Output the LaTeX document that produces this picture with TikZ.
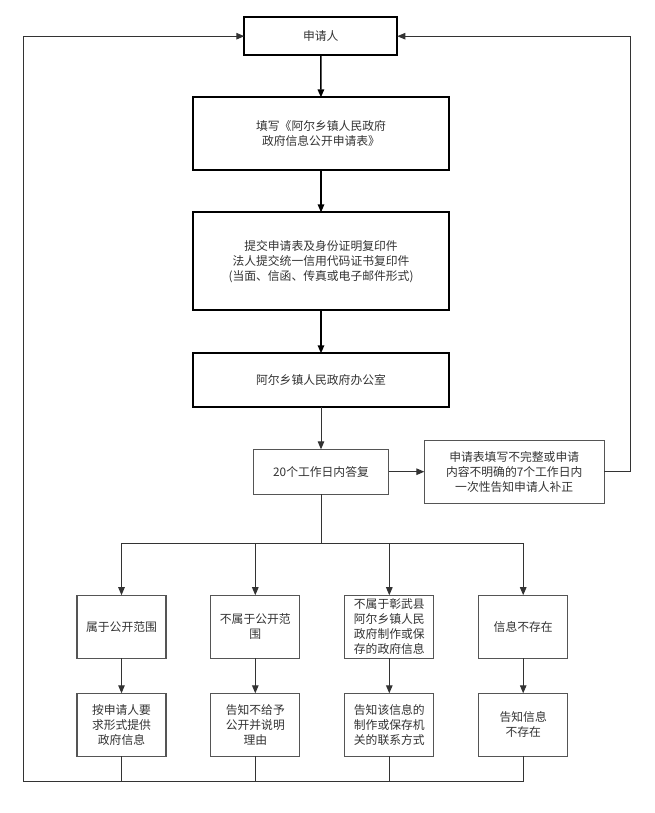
\documentclass[tikz,border=0pt]{standalone}
\usepackage{fontspec}
\setmainfont{Noto Sans CJK SC}
\usetikzlibrary{arrows.meta,calc}
\definecolor{txt}{HTML}{333333}
\definecolor{ln}{HTML}{333333}
\definecolor{bd}{HTML}{555555}
\begin{document}
\begin{tikzpicture}[x=1pt,y=-1pt,
  font=\fontsize{11.8}{15}\selectfont,
  topbox/.style={draw=black,line width=1.8pt,text=txt,align=center,inner sep=0pt,outer sep=0pt},
  lowbox/.style={draw=bd,line width=1.1pt,text=txt,align=center,inner sep=0pt,outer sep=0pt},
  colbox/.style={lowbox,minimum width=89pt,minimum height=63pt},
  toparrow/.style={draw=black,line width=1.4pt,-{Triangle[length=8pt,width=6.5pt]}},
  lowarrow/.style={draw=ln,line width=1pt,-{Triangle[length=8pt,width=6.5pt]}},
  lowline/.style={draw=ln,line width=1pt}]
\useasboundingbox (0,0) rectangle (655,813);
\fill[white] (0,0) rectangle (655,813);

\node[topbox,minimum width=153pt,minimum height=37.7pt] (app) at (320.8,36.2) {申请人};
\node[topbox,minimum width=256.6pt,minimum height=72.7pt] (fill) at (321,133.7) {填写《阿尔乡镇人民政府\\政府信息公开申请表》};
\node[topbox,minimum width=256.6pt,minimum height=97.7pt] (submit) at (321,261.2) {提交申请表及身份证明复印件\\法人提交统一信用代码证书复印件\\(当面、信函、传真或电子邮件形式)};
\node[topbox,minimum width=256.6pt,minimum height=53.4pt] (office) at (321,380) {阿尔乡镇人民政府办公室};
\node[lowbox,minimum width=135.4pt,minimum height=44.7pt] (reply) at (321,471.7) {20个工作日内答复};
\node[lowbox,minimum width=179.7pt,minimum height=63.3pt] (notify) at (514.2,471.7) {申请表填写不完整或申请\\内容不明确的7个工作日内\\一次性告知申请人补正};

\node[colbox] (ra) at (121.5,626.7) {属于公开范围};
\node[colbox] (rb) at (255.3,626.7) {不属于公开范\\围};
\node[colbox] (rc) at (389.3,626.7) {不属于彰武县\\阿尔乡镇人民\\政府制作或保\\存的政府信息};
\node[colbox] (rd) at (523.2,626.7) {信息不存在};

\node[colbox] (sa) at (121.5,724.8) {按申请人要\\求形式提供\\政府信息};
\node[colbox] (sb) at (255.3,724.8) {告知不给予\\公开并说明\\理由};
\node[colbox] (sc) at (389.3,724.8) {告知该信息的\\制作或保存机\\关的联系方式};
\node[colbox] (sd) at (523.2,724.8) {告知信息\\不存在};

\coordinate (branch) at (321,543.3);
\coordinate (bl) at (23,781.7);
\coordinate (tl) at (23,36.2);
\coordinate (tr) at (630.7,36.2);

% main vertical flow
\draw[toparrow] (app) -- (fill);
\draw[toparrow] (fill) -- (submit);
\draw[toparrow] (submit) -- (office);
\draw[lowarrow] (office) -- (reply);
\draw[lowarrow] (reply) -- (notify);

% branches
\foreach \n in {ra,rb,rc,rd}{
  \draw[lowarrow] (reply.south) -- (branch) -| (\n.north);
}
\foreach \a/\b in {ra/sa,rb/sb,rc/sc,rd/sd}{
  \draw[lowarrow] (\a) -- (\b);
}

% feedback right
\draw[lowarrow] (notify.east) -| (tr) -- (app.east);

% bottom collection and feedback left
\draw[lowline] (sd.south) |- (bl);
\foreach \n in {sa,sb,sc}{
  \draw[lowline] (\n.south) -- (\n.south |- bl);
}
\draw[lowarrow] (bl) -- (tl) -- (app.west);
\end{tikzpicture}
\end{document}
